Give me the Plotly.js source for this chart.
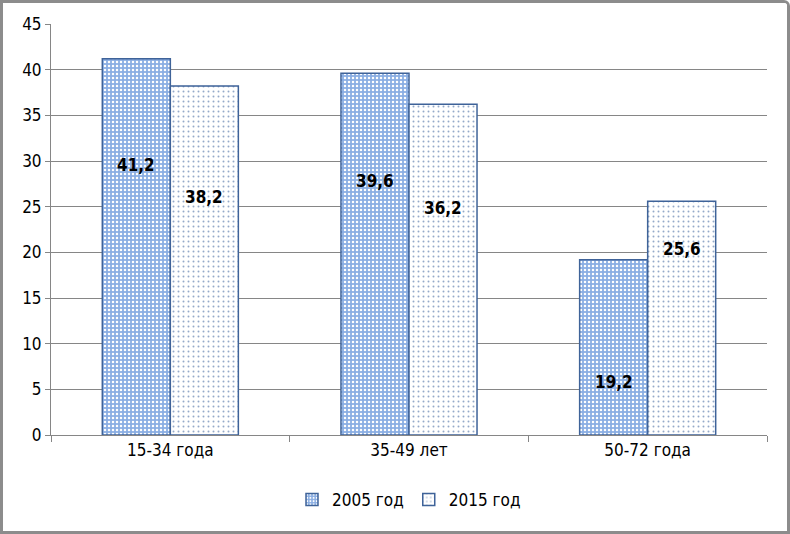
<!DOCTYPE html>
<html><head><meta charset="utf-8">
<script src="https://cdn.plot.ly/plotly-3.0.1.min.js"></script>
<style>
html,body{margin:0;padding:0;background:#fff;}
#wrap{position:absolute;left:0;top:0;width:784px;height:528px;border:3px solid #8c8c8c;border-top-right-radius:6px;overflow:hidden;}
#chart{width:784px;height:528px;}
</style></head>
<body><div id="wrap"><div id="chart"></div></div>
<script>
const categories = ['15-34 года', '35-49 лет', '50-72 года'];
const series2005 = [41.2, 39.6, 19.2];
const series2015 = [38.2, 36.2, 25.6];
const seriesNames = ['2005 год', '2015 год'];
const labels2005 = ['41,2', '39,6', '19,2'];
const labels2015 = ['38,2', '36,2', '25,6'];

const FONT = '"DejaVu Sans Condensed", "Liberation Sans Narrow", "Arial Narrow", sans-serif';
const edge = '#3f6399';

const traces = [
  {type:'bar', name:seriesNames[0], x:categories, y:series2005,
   marker:{color:'#9bbbe8', line:{color:edge, width:1.5},
     pattern:{shape:'.', bgcolor:'#8aaee3', fgcolor:'#ffffff', size:4, solidity:0.3}}},
  {type:'bar', name:seriesNames[1], x:categories, y:series2015,
   marker:{color:'#f2f5fa', line:{color:edge, width:1.5},
     pattern:{shape:'.', bgcolor:'#ffffff', fgcolor:'#94a9c9', size:5, solidity:0.12}}}
];

// label placement inside the bars (offset below the bar top, in axis units)
const off2005 = [-11.6, -11.8, -13.4];
const off2015 = [-12.1, -11.4, -5.2];
const annotations = [];
categories.forEach((c, i) => {
  annotations.push({x:c, y:series2005[i] + off2005[i], xref:'x', yref:'y', text:'<b>' + labels2005[i] + '</b>',
    showarrow:false, xshift:-34, font:{family:FONT, size:17, color:'#000'}});
  annotations.push({x:c, y:series2015[i] + off2015[i], xref:'x', yref:'y', text:'<b>' + labels2015[i] + '</b>',
    showarrow:false, xshift:34, font:{family:FONT, size:17, color:'#000'}});
});

const layout = {
  width:784, height:528,
  margin:{l:48, r:20, t:21, b:96},
  paper_bgcolor:'#ffffff', plot_bgcolor:'#ffffff',
  barmode:'group', bargap:0.43, bargroupgap:0,
  font:{family:FONT, size:17, color:'#000'},
  xaxis:{showline:true, linecolor:'#868686', linewidth:1, ticks:'outside', tickson:'boundaries',
    ticklen:6, tickcolor:'#868686', showgrid:false, tickfont:{family:FONT, size:17, color:'#000'}},
  yaxis:{range:[0,45], dtick:5, showline:true, linecolor:'#868686', linewidth:1,
    ticks:'outside', ticklen:5, tickcolor:'#868686', gridcolor:'#868686', gridwidth:1,
    zeroline:false, tickfont:{family:FONT, size:17, color:'#000'}},
  showlegend:true,
  legend:{orientation:'h', x:0.5, xanchor:'center', y:-0.158, yanchor:'middle',
    font:{family:FONT, size:17, color:'#000'}, itemwidth:30, traceorder:'normal'},
  annotations:annotations
};

Plotly.newPlot('chart', traces, layout, {displayModeBar:false, staticPlot:true});
</script></body></html>
